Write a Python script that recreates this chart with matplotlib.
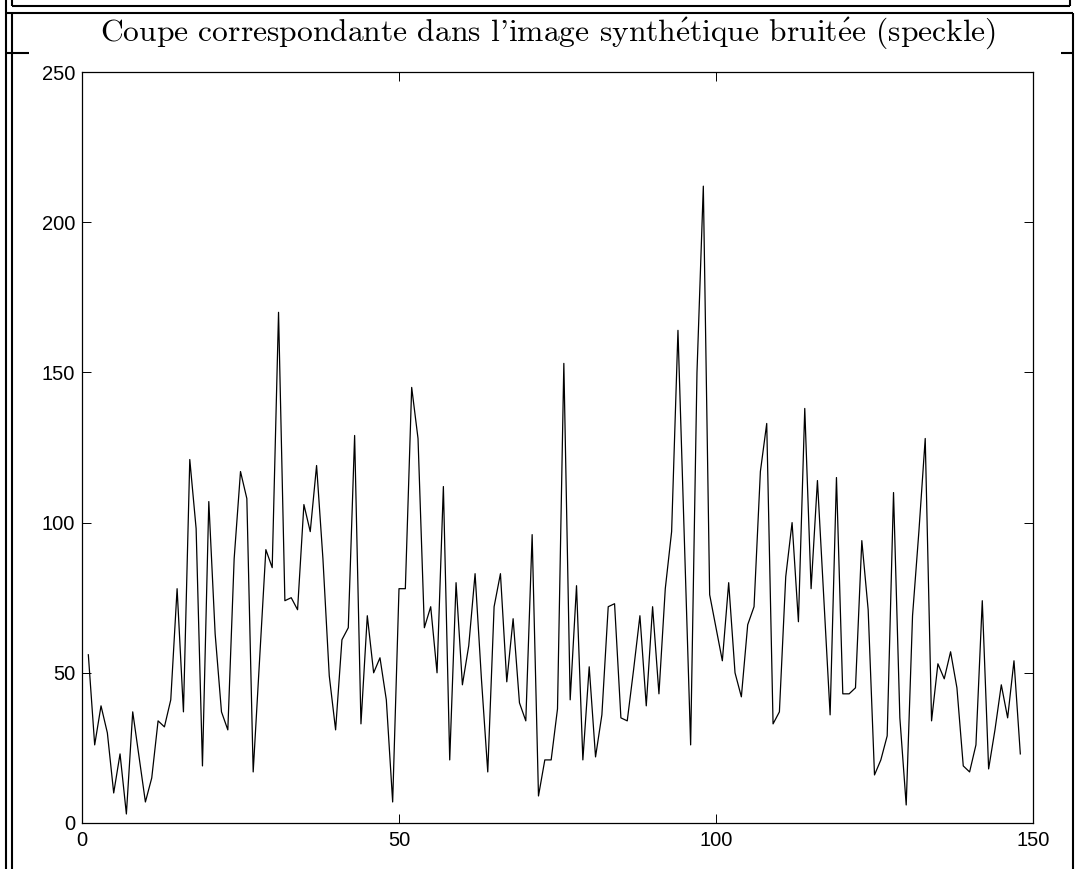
import matplotlib
matplotlib.use("Agg")
import matplotlib.pyplot as plt
import numpy as np
from matplotlib.lines import Line2D

plt.rcParams["mathtext.fontset"] = "cm"

# accented e drawn through mathtext so it stays in Computer Modern
E = r"$\mathrm{\acute{e}}$"
TITLE = "Coupe correspondante dans l'image synth" + E + "tique bruit" + E + "e (speckle)"

# intensity along the cut, one value per pixel (pixel 1 .. 148)
values = [
    56, 26, 39, 30, 10, 23, 3, 37, 22, 7,
    15, 34, 32, 41, 78, 37, 121, 98, 19, 107,
    63, 37, 31, 88, 117, 108, 17, 54, 91, 85,
    170, 74, 75, 71, 106, 97, 119, 88, 49, 31,
    61, 65, 129, 33, 69, 50, 55, 41, 7, 78,
    78, 145, 128, 65, 72, 50, 112, 21, 80, 46,
    59, 83, 48, 17, 72, 83, 47, 68, 40, 34,
    96, 9, 21, 21, 38, 153, 41, 79, 21, 52,
    22, 36, 72, 73, 35, 34, 51, 69, 39, 72,
    43, 78, 97, 164, 95, 26, 150, 212, 76, 65,
    54, 80, 50, 42, 66, 72, 117, 133, 33, 37,
    82, 100, 67, 138, 78, 114, 75, 36, 115, 43,
    43, 45, 94, 71, 16, 21, 29, 110, 35, 6,
    69, 97, 128, 34, 53, 48, 57, 45, 19, 17,
    26, 74, 18, 31, 46, 35, 54, 23,
]
pixels = np.arange(1, len(values) + 1)

xticks = [0, 50, 100, 150]
yticks = [0, 50, 100, 150, 200, 250]

W, H = 1075, 869
fig = plt.figure(figsize=(W / 100, H / 100), dpi=100)

# frame left over from the page layout
def fline(x0, y0, x1, y1, lw=1.5):
    fig.add_artist(Line2D([x0 / W, x1 / W], [1 - y0 / H, 1 - y1 / H],
                          transform=fig.transFigure, color="black", lw=lw,
                          solid_capstyle="butt"))

fline(6, 0, 6, H)
fline(12, 0, 12, 6)
fline(12, 13, 12, H)
fline(1070, 0, 1070, 6)
fline(1073, 13, 1073, H)
fline(12, 6, 1070, 6)
fline(6, 13, 1073, 13)
fline(6, 53, 29, 53)
fline(1061, 53, 1073, 53)

fig.text(548 / W, 1 - 41 / H, TITLE, ha="center", va="baseline",
         family="cmr10", fontsize=22.7)

ax = fig.add_axes([82 / W, 1 - 823 / H, (1033 - 82) / W, (823 - 72) / H])
ax.plot(pixels, values, color="black", lw=0.9)

ax.set_xlim(0, 150)
ax.set_ylim(0, 250)
ax.set_xticks(xticks)
ax.set_yticks(yticks)
ax.tick_params(direction="in", top=True, right=True, length=6.5, width=0.7,
               labelsize=14.5)
ax.tick_params(axis="y", pad=5)
ax.tick_params(axis="x", pad=6)
for lab in ax.get_xticklabels() + ax.get_yticklabels():
    lab.set_family("Liberation Sans")
for s in ax.spines.values():
    s.set_linewidth(0.9)

fig.savefig("out.png", dpi=100)
